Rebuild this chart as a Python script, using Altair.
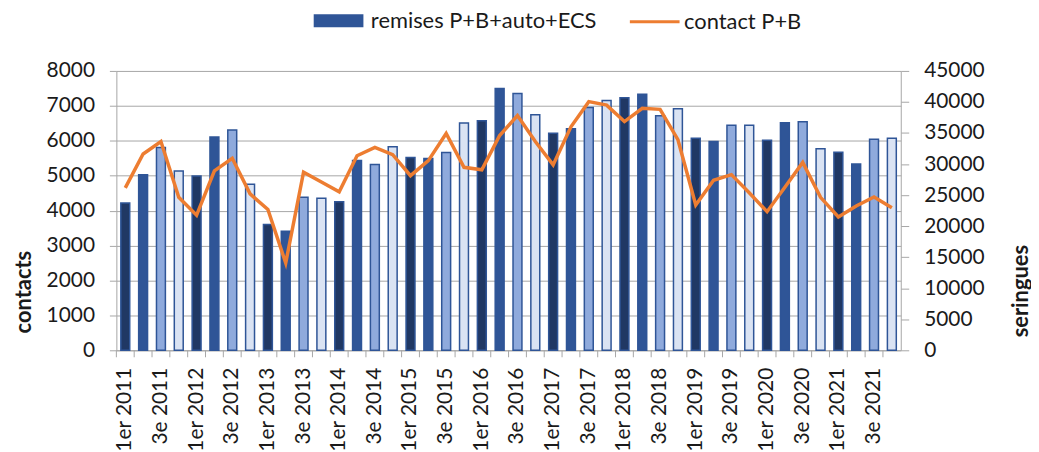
import altair as alt
import pandas as pd

years = list(range(2011, 2022))
quarter_names = ["1er", "2e", "3e", "4e"]
categories = [f"{q} {y}" for y in years for q in quarter_names]
quarter_idx = [str(i + 1) for y in years for i in range(4)]

# remises P+B+auto+ECS (seringues, right axis)
remises = [23740, 28290, 32660, 28870, 28070, 34370, 35490, 26740, 20280, 19160,
           24650, 24500, 23910, 30580, 29910, 32770, 31060, 30900, 31860, 36610,
           36980, 42160, 41360, 37950, 34950, 35700, 39120, 40240, 40670, 41230,
           37780, 38910, 34160, 33620, 36240, 36240, 33830, 36660, 36820, 32450,
           31920, 29990, 34000, 34160]

# contact P+B (contacts, left axis)
contacts = [4650, 5620, 5980, 4380, 3870, 5140, 5500, 4480, 4030, 2500,
            5100, 4820, 4540, 5570, 5810, 5600, 5000, 5430, 6210, 5240,
            5170, 6150, 6720, 5980, 5310, 6400, 7120, 7020, 6550, 6930,
            6900, 6030, 4160, 4870, 5030, 4510, 3970, 4670, 5380, 4380,
            3820, 4130, 4390, 4080]

series_names = ["remises P+B+auto+ECS", "contact P+B"]
quarter_colors = ["#203864", "#2F5597", "#8FAADC", "#DAE3F3"]
series_colors = ["#2F5597", "#ED7D31"]

df_bars = pd.DataFrame({"trimestre": categories, "q": quarter_idx,
                        "valeur": remises, "serie": series_names[0]})
df_line = pd.DataFrame({"trimestre": categories, "valeur": contacts,
                        "serie": series_names[1]})

FONT = "Lato"
GRID = "#a6a6a6"
XSCALE = alt.Scale(domain=categories, paddingInner=0.5, paddingOuter=0.25)
XAXIS = alt.Axis(
    title=None, labelAngle=-90, ticks=False,
    labelPadding=17, labelFontSize=21, labelColor="#1a1a1a",
    labelExpr="(slice(datum.value,0,2)=='2e' || slice(datum.value,0,2)=='4e') ? '' : datum.value",
    domainColor=GRID, grid=False, labelOverlap=False,
)

x_enc = alt.X("trimestre:N", sort=categories, scale=XSCALE, axis=XAXIS)

legend_common = dict(title=None, orient="none", direction="horizontal", symbolSize=2500,
                     labelFontSize=22, labelColor="#1a1a1a",
                     labelLimit=400, symbolOpacity=1)

bars = alt.Chart(df_bars).mark_bar(strokeWidth=1.5, opacity=1).encode(
    x=x_enc,
    y=alt.Y("valeur:Q", scale=alt.Scale(domain=[0, 45000], nice=False),
            axis=alt.Axis(orient="right", values=list(range(0, 45001, 5000)), format="d",
                          title="seringues", titleAngle=-90, titleX=120, titleY=221,
                          titleBaseline="middle", titleAlign="center",
                          titleFontSize=22, titleFontWeight="bold", titleColor="#1a1a1a",
                          labelFontSize=21, labelColor="#1a1a1a", labelPadding=15,
                          tickSize=8, domainColor=GRID, tickColor=GRID, grid=False)),
    fill=alt.Fill("q:N", scale=alt.Scale(domain=["1", "2", "3", "4"], range=quarter_colors),
                  legend=None),
    stroke=alt.Stroke("serie:N", scale=alt.Scale(domain=[series_names[0]], range=[series_colors[0]]),
                      legend=alt.Legend(legendX=192, legendY=-82, symbolType="stroke",
                                        symbolStrokeWidth=13, labelOffset=1, **legend_common)),
)

# category tick marks between bars (Excel style)
ticks = alt.Chart(df_bars).mark_rule(color=GRID, strokeWidth=1, xOffset=-4.48).encode(
    x=alt.X("trimestre:N", sort=categories, scale=XSCALE, axis=XAXIS, bandPosition=0),
    y=alt.value(281), y2=alt.value(288),
)

line = alt.Chart(df_line).mark_line(strokeWidth=3.5).encode(
    x=x_enc,
    y=alt.Y("valeur:Q", scale=alt.Scale(domain=[0, 8000], nice=False),
            axis=alt.Axis(orient="left", values=list(range(0, 8001, 1000)), format="d",
                          title="contacts", titleAngle=-90, titleX=-93, titleY=222,
                          titleBaseline="middle", titleAlign="center",
                          titleFontSize=22, titleFontWeight="bold", titleColor="#1a1a1a",
                          labelFontSize=21, labelColor="#1a1a1a", labelPadding=15,
                          tickSize=7, domainColor=GRID, tickColor=GRID,
                          grid=True, gridColor=GRID, gridWidth=1)),
    stroke=alt.Stroke("serie:N", scale=alt.Scale(domain=[series_names[1]], range=[series_colors[1]]),
                      legend=alt.Legend(legendX=515, legendY=-76, symbolType="stroke",
                                        symbolStrokeWidth=3, labelOffset=3, **legend_common)),
)

chart = alt.layer(bars, ticks, line).resolve_scale(
    y="independent", stroke="independent"
).resolve_legend(stroke="independent").properties(
    width=789, height=281,
    autosize=alt.AutoSizeParams(type="none"),
    padding={"left": 109, "top": 62, "right": 131, "bottom": 100},
).configure(font=FONT).configure_view(stroke=None)

chart.save("out.html", embed_options={"renderer": "svg", "actions": False})
